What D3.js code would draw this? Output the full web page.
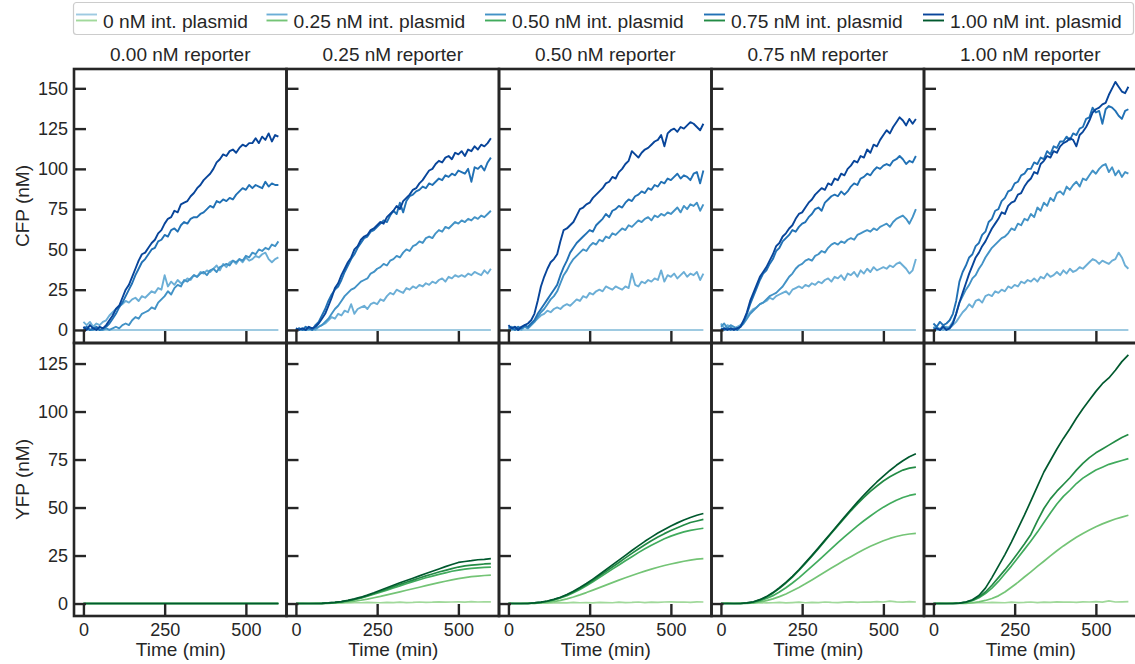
<!DOCTYPE html>
<html>
<head>
<meta charset="utf-8">
<script src="https://cdn.jsdelivr.net/npm/d3@7"></script>
<style>
  html, body { margin: 0; padding: 0; background: #fff; }
  svg text { font-family: "Liberation Sans", Arial, Helvetica, sans-serif; fill: #262626; }
</style>
</head>
<body>
<svg id="chart" width="1135" height="664"></svg>
<script>
// ---- labels ----
const plasmidLabels = ["0 nM int. plasmid", "0.25 nM int. plasmid", "0.50 nM int. plasmid", "0.75 nM int. plasmid", "1.00 nM int. plasmid"];
const reporterLabels = ["0.00 nM reporter", "0.25 nM reporter", "0.50 nM reporter", "0.75 nM reporter", "1.00 nM reporter"];
const cfpTicks = [0, 25, 50, 75, 100, 125, 150];
const yfpTicks = [0, 25, 50, 75, 100, 125];
const timeTicks = [0, 250, 500];

// ---- sampling times (min) ----
const timeCFP = [0,10,20,30,40,50,60,70,80,90,100,110,120,130,140,150,160,170,180,190,200,210,220,230,240,250,260,270,280,290,300,310,320,330,340,350,360,370,380,390,400,410,420,430,440,450,460,470,480,490,500,510,520,530,540,550,560,570,580,590,600];
const timeYFP = [0,20,40,60,80,100,120,140,160,180,200,220,240,260,280,300,320,340,360,380,400,420,440,460,480,500,520,540,560,580,600];

// ---- CFP (nM); one array per int. plasmid level, per reporter panel ----
const cfpNone = [0,0,0,0,0,0,0,0,0,0,0,0,0,0,0,0,0,0,0,0,0,0,0,0,0,0,0,0,0,0,0,0,0,0,0,0,0,0,0,0,0,0,0,0,0,0,0,0,0,0,0,0,0,0,0,0,0,0,0,0,0];

const cfpRep000 = [
  cfpNone,
  [5,3,5,2,4,3,5,6,9,11, 13,15,16,18,17,19,20,18,21,20, 22,24,23,26,25,34,27,30,28,31, 29,30,32,31,34,33,36,35,37,36, 38,40,37,41,39,42,43,41,44,42, 45,43,44,46,45,47,48,44,42,44, 45],
  [0,1,0,0,1,0,0,1,0,1, 2,1,3,4,3,6,8,7,10,11, 12,14,13,17,19,21,24,22,26,28, 27,31,30,32,34,33,35,36,34,37, 38,36,39,40,41,40,43,42,44,43, 46,45,48,47,50,49,51,50,53,52, 55],
  [1,2,0,1,2,0,1,2,4,7, 10,14,17,21,25,29,34,38,42,44, 47,50,51,55,56,59,58,62,63,61, 65,67,66,69,70,70,72,73,75,77, 76,80,79,81,80,82,81,84,86,88, 87,90,88,90,89,88,92,89,91,90, 90],
  [2,0,3,1,0,2,1,3,6,9, 13,15,20,25,28,33,38,43,47,48, 51,54,56,60,62,66,69,70,74,73, 78,79,80,83,85,88,90,93,95,97, 100,104,106,109,108,111,112,110,113,115, 114,116,116,119,116,120,118,122,117,121, 120]
];
const cfpRep025 = [
  cfpNone,
  [1,0,1,0,0,1,0,2,3,4, 6,8,7,10,9,12,11,16,10,13, 14,15,13,16,17,16,19,18,21,23, 22,25,24,23,26,25,27,26,28,27, 29,28,30,29,31,32,30,33,32,34, 33,34,33,35,34,36,35,34,37,35, 38],
  [0,1,0,0,1,0,1,2,3,5, 7,10,13,15,18,21,23,25,26,28, 30,31,32,35,36,38,39,41,40,43, 44,46,45,48,50,49,52,53,55,54, 57,58,57,60,62,61,64,63,65,67, 66,68,67,69,68,70,69,71,70,72, 74],
  [0,1,0,2,1,0,3,5,9,13, 18,22,25,27,31,36,40,44,47,51, 54,57,58,61,62,64,66,68,67,71, 74,72,79,73,80,83,84,86,87,89, 88,91,90,92,94,93,96,95,97,96, 99,98,97,100,92,101,100,102,99,104, 107],
  [1,0,1,0,2,1,2,4,7,10, 15,20,26,29,34,38,42,45,50,52, 56,58,59,62,63,65,67,66,70,72, 74,77,75,80,82,84,87,88,91,93, 96,99,100,103,105,104,107,108,106,110, 109,111,108,112,111,114,112,115,114,116, 119]
];
const cfpRep050 = [
  cfpNone,
  [1,0,2,1,0,2,1,3,5,7, 9,10,12,11,13,14,13,15,16,15, 17,19,18,21,20,23,22,24,25,24, 27,26,25,27,26,25,27,26,35,28, 27,30,29,31,30,32,31,37,30,34, 33,35,32,34,36,33,35,34,36,31, 35],
  [0,2,1,0,1,2,1,3,5,8, 11,13,16,19,21,24,29,34,37,41, 44,46,48,50,49,52,54,53,56,55, 58,57,60,59,61,63,62,65,64,66, 68,67,69,70,68,71,70,72,71,73, 72,74,76,73,77,75,78,77,79,74, 78],
  [2,1,0,2,1,3,2,4,6,10, 13,16,19,22,25,28,34,39,43,48, 51,54,56,58,60,62,61,65,67,69, 72,70,74,75,77,76,79,81,80,83, 84,86,85,88,87,90,89,92,91,94, 93,95,97,94,96,95,93,97,98,91, 99],
  [3,1,2,0,2,3,4,6,10,18, 27,33,38,42,44,47,55,62,63,65, 67,71,75,76,78,79,82,84,86,88, 91,92,95,94,98,100,103,105,111,109, 107,110,112,113,115,117,118,121,114,122, 124,125,123,126,125,127,129,128,126,124, 128]
];
const cfpRep075 = [
  cfpNone,
  [4,1,3,2,0,2,3,5,8,11, 13,14,16,17,18,20,19,21,22,23, 24,22,25,26,27,26,28,27,29,28, 30,29,31,32,30,33,32,34,31,35, 34,36,33,37,35,38,36,39,37,38, 39,38,40,39,41,42,40,38,35,37, 44],
  [2,4,1,3,2,1,2,4,7,10, 12,14,16,17,19,21,22,23,25,27, 30,33,35,38,40,41,43,44,43,46, 47,49,48,51,53,54,53,55,54,56, 57,56,59,60,61,62,61,63,62,64, 65,66,64,67,69,70,71,69,66,70, 75],
  [1,0,1,0,1,0,2,5,10,16, 21,26,31,35,37,41,44,49,51,55, 57,59,62,61,64,66,67,70,72,75, 76,74,79,81,83,84,83,86,84,86, 89,91,90,94,95,97,96,99,101,100, 102,103,102,105,106,108,106,103,105,104, 108],
  [0,1,0,1,0,1,2,6,11,18, 23,28,33,36,39,43,47,52,54,58, 60,63,65,69,72,73,76,79,81,84, 86,88,87,91,90,94,93,97,96,100, 102,105,104,108,107,112,110,115,114,118, 121,124,122,126,129,132,130,127,131,128, 131]
];
const cfpRep100 = [
  cfpNone,
  [2,0,1,0,2,1,3,5,8,11, 13,16,14,18,19,17,21,22,21,24, 23,25,24,27,26,28,27,30,29,31, 30,32,30,33,32,35,33,34,36,34, 37,35,38,36,37,39,38,40,42,44, 43,41,43,42,41,43,44,48,45,40, 38],
  [1,2,0,3,1,2,5,10,17,21, 25,28,32,34,38,41,45,48,51,53, 55,57,58,60,63,62,66,65,69,68, 72,70,76,74,79,77,82,80,85,86, 84,89,87,90,92,89,94,93,96,99, 97,100,102,103,98,101,96,99,95,98, 97],
  [4,2,5,3,4,6,10,18,30,36, 40,45,47,52,54,59,61,67,69,74, 75,80,82,86,87,91,92,96,97,100, 100,104,103,107,106,111,109,114,113,117, 117,120,118,122,121,125,126,131,132,138, 135,136,128,137,139,138,136,133,131,136, 137],
  [0,1,0,2,0,1,4,10,17,23, 29,35,40,45,48,52,55,59,63,66, 69,73,72,77,79,80,84,85,89,92, 94,98,97,103,105,108,107,111,110,114, 116,117,119,118,114,121,123,126,130,135, 137,138,140,141,146,150,154,151,148,147, 151]
];

// ---- YFP (nM); one array per int. plasmid level, per reporter panel ----
const yfpNone = [0,0,0,0,0,0,0,0,0,0,0,0,0,0,0,0,0,0,0,0,0,0,0,0,0,0,0,0,0,0,0];

const yfpRep000 = [yfpNone, yfpNone, yfpNone, yfpNone, yfpNone];
const yfpRep025 = [
  [0,0.1,0,0.2,0.1,0.3,0.2,0.4,0.3,0.5,0.4,0.6,0.5,0.4,0.6,0.5,0.7,0.5,0.6,0.8,0.6,0.7,0.9,0.7,0.8,0.9,0.7,1.0,0.8,0.9,0.9],
  [0,0,0,0,0,0.1,0.3,0.5,0.8,1.2,1.7,2.3,3.0,3.7,4.5,5.3,6.1,6.9,7.7,8.5,9.3,10.1,10.9,11.6,12.3,13.0,13.5,14.0,14.3,14.6,14.8],
  [0,0,0,0,0.1,0.2,0.5,0.9,1.4,2.0,2.8,3.8,4.8,5.9,7.0,8.1,9.2,10.3,11.4,12.4,13.4,14.3,15.2,16.0,16.8,17.4,17.9,18.3,18.6,18.8,19.0],
  [0,0,0,0,0.1,0.3,0.6,1.0,1.5,2.2,3.1,4.1,5.2,6.4,7.6,8.8,10.0,11.1,12.2,13.3,14.4,15.4,16.4,17.3,18.2,19.0,19.6,20.0,20.3,20.6,20.8],
  [0,0,0,0,0.1,0.3,0.6,1.0,1.6,2.4,3.3,4.4,5.6,6.9,8.2,9.5,10.8,12.0,13.2,14.4,15.6,16.8,18.0,19.2,20.3,21.4,21.9,22.3,22.8,23.0,23.4]
];
const yfpRep050 = [
  [0.2,0,0.1,0.3,0.1,0.4,0.2,0.3,0.5,0.3,0.6,0.4,0.5,0.3,0.6,0.5,0.4,0.7,0.5,0.6,0.8,0.5,0.7,0.6,0.8,0.9,0.7,0.8,0.6,0.9,0.8],
  [0,0,0,0,0.1,0.3,0.6,1.0,1.6,2.4,3.4,4.5,5.7,7.0,8.3,9.6,10.9,12.2,13.4,14.6,15.8,16.9,17.9,18.9,19.8,20.6,21.3,22.0,22.6,23.1,23.4],
  [0,0,0,0,0.3,0.6,1.1,1.9,2.9,4.1,5.6,7.3,9.2,11.3,13.5,15.7,17.9,20.1,22.3,24.4,26.5,28.5,30.4,32.1,33.7,35.1,36.3,37.3,38.1,38.7,39.2],
  [0,0,0,0,0.3,0.6,1.2,2.0,3.1,4.4,6.0,7.8,9.8,12.0,14.3,16.6,19.0,21.4,23.8,26.1,28.4,30.6,32.7,34.6,36.4,38.0,39.5,40.9,42.2,43.0,43.8],
  [0,0,0,0,0.3,0.7,1.3,2.2,3.3,4.7,6.4,8.3,10.4,12.7,15.1,17.6,20.1,22.6,25.1,27.6,30.0,32.4,34.6,36.7,38.6,40.4,42.0,43.5,44.8,46.0,46.9]
];
const yfpRep075 = [
  [0.1,0.3,0,0.2,0.4,0.2,0.5,0.3,0.4,0.6,0.3,0.5,0.7,0.4,0.6,0.5,0.8,0.6,0.5,0.7,0.9,0.6,0.8,0.7,1.0,0.8,1.2,0.9,0.7,1.0,0.8],
  [0,0,0,0,0.1,0.3,0.8,1.5,2.4,3.6,5.0,6.6,8.4,10.3,12.3,14.3,16.4,18.5,20.5,22.5,24.4,26.3,28.1,29.8,31.3,32.7,33.9,34.9,35.7,36.2,36.5],
  [0,0,0,0,0.2,0.6,1.4,2.6,4.1,6.0,8.2,10.7,13.4,16.3,19.3,22.4,25.5,28.6,31.7,34.7,37.6,40.4,43.1,45.6,48.0,50.2,52.1,53.8,55.2,56.3,57.0],
  [0,0,0,0,0.3,0.8,1.9,3.4,5.4,7.9,10.7,13.8,17.2,20.9,24.7,28.6,32.6,36.6,40.6,44.5,48.3,51.9,55.3,58.4,61.2,63.8,66.0,67.9,69.5,70.5,71.0],
  [0,0,0,0,0.3,0.9,2.0,3.6,5.7,8.2,11.0,14.2,17.6,21.3,25.1,29.0,33.0,37.0,41.0,45.0,49.0,52.8,56.5,60.0,63.3,66.4,69.3,72.0,74.4,76.5,78.0]
];
const yfpRep100 = [
  [0,0.2,0.1,0.3,0.2,0.4,0.3,0.5,0.4,0.6,0.5,0.4,0.7,0.5,0.6,0.8,0.5,0.7,0.6,0.9,0.7,0.8,0.6,0.9,0.8,1.0,0.7,1.4,0.8,0.9,1.0],
  [0,0,0,0,0,0.1,0.4,0.9,1.6,2.6,4.0,6.0,8.5,11.0,13.8,16.5,19.3,22.0,24.8,27.5,30.0,32.3,34.5,36.5,38.3,40.0,41.5,42.8,44.0,45.0,46.0],
  [0,0,0,0,0.2,0.6,1.5,3.0,5.2,8.0,11.5,15.5,19.5,23.8,28.2,32.6,37.2,42.2,47.2,51.8,55.8,59.0,62.5,65.3,67.5,69.5,71.0,72.5,73.5,74.5,75.5],
  [0,0,0,0,0.2,0.7,1.7,3.4,6.0,9.5,13.5,17.5,21.8,26.3,31.0,36.0,43.0,49.5,54.5,58.5,62.0,65.5,69.5,73.0,76.0,78.5,80.5,82.5,84.5,86.5,88.0],
  [0,0,0,0,0.2,0.8,2.0,4.2,8.0,13.5,19.5,25.5,32.0,39.0,46.0,53.5,61.0,68.5,74.5,80.5,86.0,91.0,96.5,101.5,106.0,110.5,114.5,117.5,121.5,126.0,129.5]
];

const cfpPanels = [cfpRep000, cfpRep025, cfpRep050, cfpRep075, cfpRep100];
const yfpPanels = [yfpRep000, yfpRep025, yfpRep050, yfpRep075, yfpRep100];

const blues  = ["#9ecae1", "#6baed6", "#4292c6", "#2171b5", "#08459a"];
const greens = ["#a1d99b", "#74c476", "#41ab5d", "#238b45", "#00592e"];

// ---- layout ----
const ink = "#262626";
const colLeft = 74, colW = 212.5;
const rows = [
  { top: 69,  bottom: 343, domain: [-8.1, 162],  ticks: cfpTicks, label: "CFP (nM)", panels: cfpPanels, time: timeCFP, colors: blues,  lw: 1.9 },
  { top: 343, bottom: 616, domain: [-6.5, 135.7], ticks: yfpTicks, label: "YFP (nM)", panels: yfpPanels, time: timeYFP, colors: greens, lw: 1.7 }
];

const svg = d3.select("#chart");

rows.forEach((row, r) => {
  const y = d3.scaleLinear().domain(row.domain).range([row.bottom, row.top]);
  reporterLabels.forEach((rep, c) => {
    const left = colLeft + c * colW;
    const x = d3.scaleLinear().domain([-29, 625]).range([left, left + colW]);
    const g = svg.append("g");

    const line = d3.line()
      .x((d, i) => x(row.time[i]))
      .y(d => y(d));

    g.selectAll("path.series")
      .data(row.panels[c])
      .join("path")
      .attr("class", "series")
      .attr("d", d => line(d))
      .attr("fill", "none")
      .attr("stroke", (d, i) => row.colors[i])
      .attr("stroke-width", row.lw)
      .attr("stroke-linejoin", "round");

    // y axis, ticks pointing inward
    const yAxis = d3.axisLeft(y).tickValues(row.ticks).tickSizeInner(-12).tickSizeOuter(0).tickPadding(6);
    if (c > 0) yAxis.tickFormat("");
    const ya = g.append("g").attr("transform", `translate(${left},0)`).call(yAxis);
    ya.select(".domain").remove();
    ya.selectAll(".tick line").attr("stroke", ink).attr("stroke-width", 2.4);
    ya.selectAll(".tick text").attr("font-size", 18).attr("fill", ink);

    // x axis, ticks pointing inward
    const xAxis = d3.axisBottom(x).tickValues(timeTicks).tickSizeInner(-12).tickSizeOuter(0).tickPadding(7);
    if (r === 0) xAxis.tickFormat("");
    const xa = g.append("g").attr("transform", `translate(0,${row.bottom})`).call(xAxis);
    xa.select(".domain").remove();
    xa.selectAll(".tick line").attr("stroke", ink).attr("stroke-width", 2.4);
    xa.selectAll(".tick text").attr("font-size", 18).attr("fill", ink);

    // frame
    g.append("rect")
      .attr("x", left).attr("y", row.top)
      .attr("width", colW).attr("height", row.bottom - row.top)
      .attr("fill", "none").attr("stroke", ink).attr("stroke-width", 2.6);

    if (r === 0) {
      g.append("text")
        .attr("x", left + colW / 2).attr("y", 61)
        .attr("text-anchor", "middle").attr("font-size", 19)
        .text(rep);
    } else {
      g.append("text")
        .attr("x", x(300)).attr("y", 656)
        .attr("text-anchor", "middle").attr("font-size", 19)
        .text("Time (min)");
    }
  });

  svg.append("text")
    .attr("transform", `translate(29,${(row.top + row.bottom) / 2}) rotate(-90)`)
    .attr("text-anchor", "middle").attr("font-size", 19)
    .text(row.label);
});

// ---- legend ----
const legend = svg.append("g");
legend.append("rect")
  .attr("x", 73.5).attr("y", 2.5).attr("width", 1060).attr("height", 32).attr("rx", 3)
  .attr("fill", "#fff").attr("stroke", "#cccccc").attr("stroke-width", 1.2);
const textX = [103, 293.5, 512, 731, 950];
plasmidLabels.forEach((lab, i) => {
  const hx = textX[i] - 27;
  legend.append("line").attr("x1", hx).attr("x2", hx + 21)
    .attr("y1", 14.5).attr("y2", 14.5).attr("stroke", blues[i]).attr("stroke-width", 1.9);
  legend.append("line").attr("x1", hx).attr("x2", hx + 21)
    .attr("y1", 20.5).attr("y2", 20.5).attr("stroke", greens[i]).attr("stroke-width", 1.9);
  legend.append("text").attr("x", textX[i]).attr("y", 27.5).attr("font-size", 19.2).text(lab);
});
</script>
</body>
</html>
